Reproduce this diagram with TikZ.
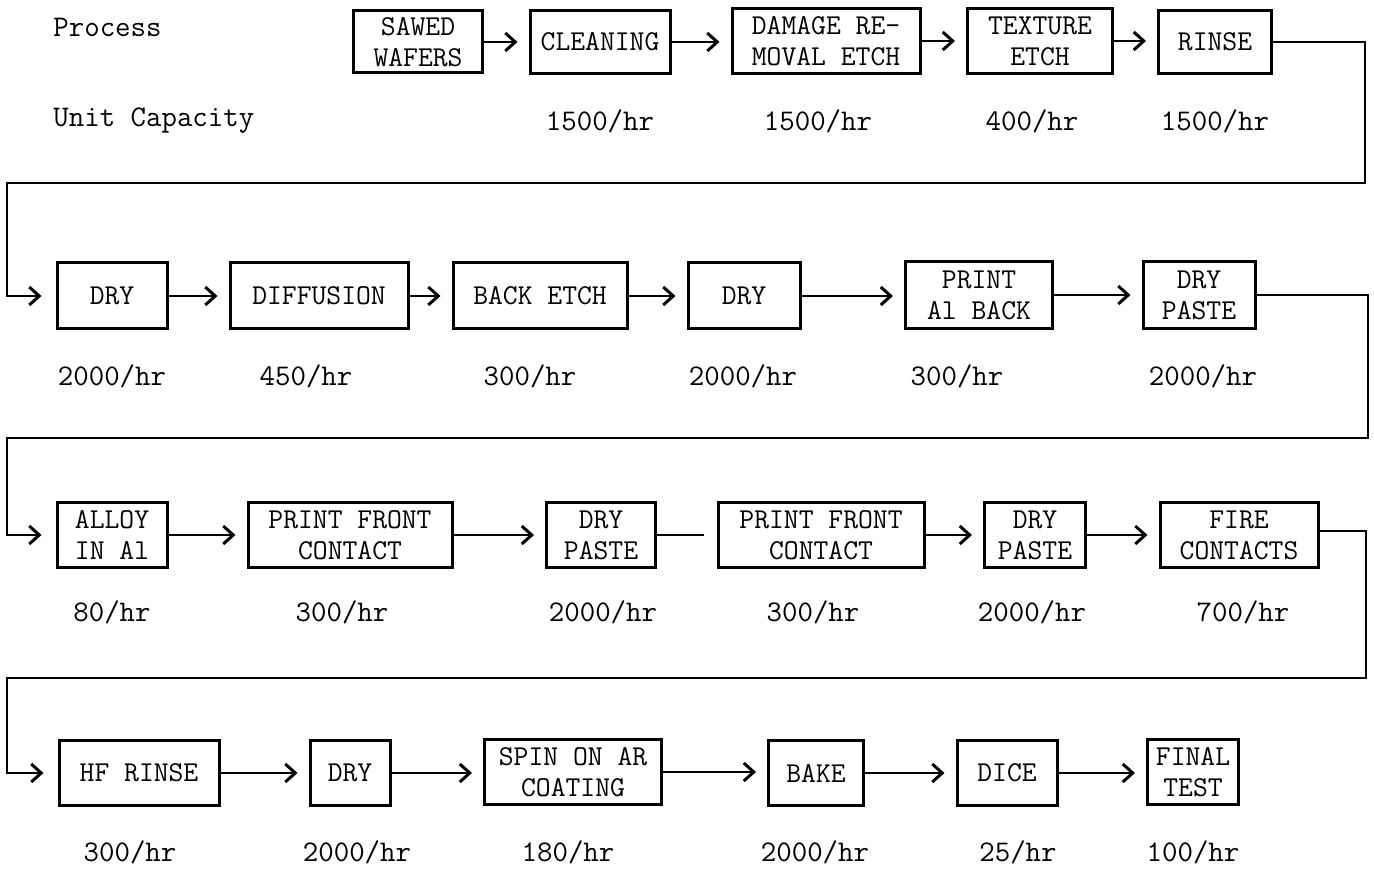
\documentclass[tikz,border=0pt]{standalone}
\usetikzlibrary{arrows.meta}
\begin{document}
\begin{tikzpicture}[x=0.5pt,y=-0.5pt,
  every node/.style={font=\fontsize{14.4}{15.5}\selectfont\ttfamily},
  box/.style={draw, line width=1.5pt, align=center, inner sep=0pt},
  rate/.style={inner sep=0pt, font=\fontsize{15}{15.5}\selectfont\ttfamily},
  arr/.style={line width=1.2pt, -{Straight Barb[length=5pt,width=9pt,line width=1.5pt]}, shorten >=5.5pt},
  loop/.style={line width=1.2pt, -{Straight Barb[length=5pt,width=9pt,line width=1.5pt]}, shorten >=7pt},
  plain/.style={line width=1.2pt, shorten >=6.5pt}]
\useasboundingbox (0,0) rectangle (1374,870);
% headings
\node[rate, anchor=west] (hproc) at (53,27) {Process};
\node[rate, anchor=west] (hcap) at (53,121) {Unit Capacity};
% row 1
\node[box, minimum width=64.5pt, minimum height=31pt] (saw) at (418,42) {SAWED\\WAFERS};
\node[box, minimum width=70pt, minimum height=31.5pt] (clean) at (600,42) {CLEANING};
\node[box, minimum width=94pt, minimum height=32.5pt] (dam) at (826,41) {DAMAGE RE-\\MOVAL ETCH};
\node[box, minimum width=72.5pt, minimum height=32.5pt] (tex) at (1040,41) {TEXTURE\\ETCH};
\node[box, minimum width=56.5pt, minimum height=31.5pt] (rinse) at (1215,42) {RINSE};
\node[rate] (r1b) at (600,121) {1500/hr};
\node[rate] (r1c) at (818,121) {1500/hr};
\node[rate] (r1d) at (1032,121) {400/hr};
\node[rate] (r1e) at (1215,121) {1500/hr};
% row 2
\node[box, minimum width=55pt, minimum height=33pt] (dryA) at (112,296) {DRY};
\node[box, minimum width=89pt, minimum height=33pt] (diff) at (319,296) {DIFFUSION};
\node[box, minimum width=87pt, minimum height=33pt] (back) at (540,296) {BACK ETCH};
\node[box, minimum width=56pt, minimum height=33pt] (dryB) at (744,296) {DRY};
\node[box, minimum width=73.5pt, minimum height=33.5pt] (print) at (979,295) {PRINT\\Al BACK};
\node[box, minimum width=56pt, minimum height=33.5pt] (dpA) at (1199,295) {DRY\\PASTE};
\node[rate] (r2a) at (112,376) {2000/hr};
\node[rate] (r2b) at (306,376) {450/hr};
\node[rate] (r2c) at (530,376) {300/hr};
\node[rate] (r2d) at (743,376) {2000/hr};
\node[rate] (r2e) at (957,376) {300/hr};
\node[rate] (r2f) at (1203,376) {2000/hr};
% row 3
\node[box, minimum width=55pt, minimum height=32pt] (alloy) at (112,535) {ALLOY\\IN Al};
\node[box, minimum width=102pt, minimum height=32pt] (pfA) at (350,535) {PRINT FRONT\\CONTACT};
\node[box, minimum width=54.5pt, minimum height=32pt] (dpB) at (601,535) {DRY\\PASTE};
\node[box, minimum width=103pt, minimum height=32pt] (pfB) at (821,535) {PRINT FRONT\\CONTACT};
\node[box, minimum width=50.5pt, minimum height=32pt] (dpC) at (1035,535) {DRY\\PASTE};
\node[box, minimum width=79pt, minimum height=32pt] (fire) at (1239,535) {FIRE\\CONTACTS};
\node[rate] (r3a) at (112,612) {80/hr};
\node[rate] (r3b) at (342,612) {300/hr};
\node[rate] (r3c) at (603,612) {2000/hr};
\node[rate] (r3d) at (813,612) {300/hr};
\node[rate] (r3e) at (1032,612) {2000/hr};
\node[rate] (r3f) at (1243,612) {700/hr};
% row 4
\node[box, minimum width=80pt, minimum height=32.5pt] (hf) at (139,773) {HF RINSE};
\node[box, minimum width=40pt, minimum height=32.5pt] (dryC) at (350,773) {DRY};
\node[box, minimum width=88.5pt, minimum height=32.5pt] (spin) at (573,772) {SPIN ON AR\\COATING};
\node[box, minimum width=47.5pt, minimum height=32.5pt] (bake) at (816,773) {BAKE};
\node[box, minimum width=50pt, minimum height=32.5pt] (dice) at (1007,773) {DICE};
\node[box, minimum width=45.5pt, minimum height=32.5pt] (final) at (1193,772) {FINAL\\TEST};
\node[rate] (r4a) at (130,852) {300/hr};
\node[rate] (r4b) at (357,852) {2000/hr};
\node[rate] (r4c) at (568,852) {180/hr};
\node[rate] (r4d) at (815,852) {2000/hr};
\node[rate] (r4e) at (1018,852) {25/hr};
\node[rate] (r4f) at (1193,852) {100/hr};
% connectors row 1
\draw[arr] (saw.east) -- (saw.east -| clean.west);
\draw[arr] (clean.east) -- (clean.east -| dam.west);
\draw[arr] (dam.east) -- (dam.east -| tex.west);
\draw[arr] (tex.east) -- (tex.east -| rinse.west);
% loop 1
\coordinate (t1) at (1365,183);
\coordinate (t2) at (7,183);
\draw[loop] (rinse.east) -| (t1) -- (t2) |- (dryA.west);
% row 2
\draw[arr] (dryA.east) -- (dryA.east -| diff.west);
\draw[arr] (diff.east) -- (diff.east -| back.west);
\draw[arr] (back.east) -- (back.east -| dryB.west);
\draw[arr] (dryB.east) -- (dryB.east -| print.west);
\draw[arr] (print.east) -- (print.east -| dpA.west);
% loop 2
\coordinate (u1) at (1368,438);
\coordinate (u2) at (7,438);
\draw[loop] (dpA.east) -| (u1) -- (u2) |- (alloy.west);
% row 3
\draw[arr] (alloy.east) -- (alloy.east -| pfA.west);
\draw[arr] (pfA.east) -- (pfA.east -| dpB.west);
\draw[plain] (dpB.east) -- (dpB.east -| pfB.west);
\draw[arr] (pfB.east) -- (pfB.east -| dpC.west);
\draw[arr] (dpC.east) -- (dpC.east -| fire.west);
% loop 3
\coordinate (v1) at (1366,678);
\coordinate (v2) at (7,678);
\draw[loop] ([yshift=2pt]fire.east) -| (v1) -- (v2) |- (hf.west);
% row 4
\draw[arr] (hf.east) -- (hf.east -| dryC.west);
\draw[arr] (dryC.east) -- (dryC.east -| spin.west);
\draw[arr] (spin.east) -- (spin.east -| bake.west);
\draw[arr] (bake.east) -- (bake.east -| dice.west);
\draw[arr] (dice.east) -- (dice.east -| final.west);
\end{tikzpicture}
\end{document}
